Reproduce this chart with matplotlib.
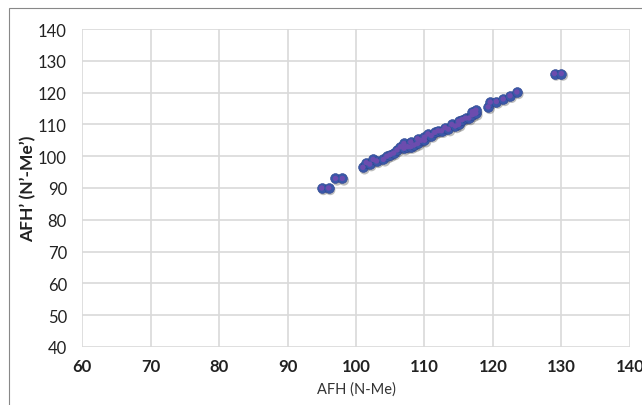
import matplotlib
matplotlib.use("Agg")
import matplotlib.pyplot as plt
import matplotlib.transforms as mtrans
from matplotlib.patches import Rectangle

plt.rcParams["font.family"] = ["Lato", "DejaVu Sans"]

afh = [95, 96, 97, 98,
       101, 101.5, 102, 102.5, 103, 104, 104.5, 105, 105.5, 106, 106.5, 107, 107, 107.5,
       108, 108, 108.5, 109, 109, 109.5, 110, 110, 110.5, 111, 111.5, 112, 112.5, 113,
       113.5, 114, 114.5, 115, 115, 115.5, 116, 116.5, 117, 117, 117.5, 117.5,
       119.3, 119.6, 120.5, 121.5, 122.5, 123.5,
       129, 130]
afh_soft = [90, 90, 93, 93,
            96.5, 98, 97.5, 99, 98.5, 99, 100, 100.5, 101, 102, 103, 102.5, 104, 103,
            103, 104.5, 103.5, 104, 105.5, 105, 105, 106, 107, 106.5, 107.5, 108, 108, 109,
            108.5, 110, 109.5, 110, 111, 111.5, 112, 112, 113, 114, 113.5, 114.5,
            115.5, 117, 117.2, 118, 119, 120.2,
            126, 126]

fig = plt.figure(figsize=(6.42, 4.06), dpi=100)
ax = fig.add_axes([0.128, 0.143, 0.853, 0.783])

shadow = mtrans.offset_copy(ax.transData, fig=fig, x=1.2, y=-1.5, units="points")
ax.scatter(afh, afh_soft, s=54, color="#444444", alpha=0.35, edgecolors="none", transform=shadow, zorder=3)
ax.scatter(afh, afh_soft, s=50, color="#3a58a8", edgecolors="#2e4590", linewidths=0.4, zorder=4)
ax.scatter(afh, afh_soft, s=15, color="#6c4cae", edgecolors="none", zorder=5)

ax.set_xlim(60, 140)
ax.set_ylim(40, 140)
ax.set_xticks(range(60, 141, 10))
ax.set_yticks(range(40, 141, 10))
ax.grid(True, color="#d9d9d9", linewidth=1.2)
ax.set_axisbelow(True)
for s in ax.spines.values():
    s.set_visible(False)
ax.tick_params(length=0, labelsize=12, colors="#222222")
ax.tick_params(axis="x", pad=8)
ax.tick_params(axis="y", pad=11)
for lbl in ax.get_xticklabels():
    lbl.set_fontweight("bold")
ax.set_xlabel("AFH (N-Me)", fontsize=10.5, color="#333333", labelpad=5)
ax.set_ylabel("AFH\u2019 (N\u2019-Me\u2019)", fontsize=12.5, fontweight="bold", color="#222222", labelpad=1)

fig.patches.append(Rectangle((9 / 642, -0.01), 1.0, 1 - 9 / 406 + 0.01, transform=fig.transFigure,
                             fill=False, edgecolor="#888888", linewidth=0.8))

fig.savefig("out.png", dpi=100)
